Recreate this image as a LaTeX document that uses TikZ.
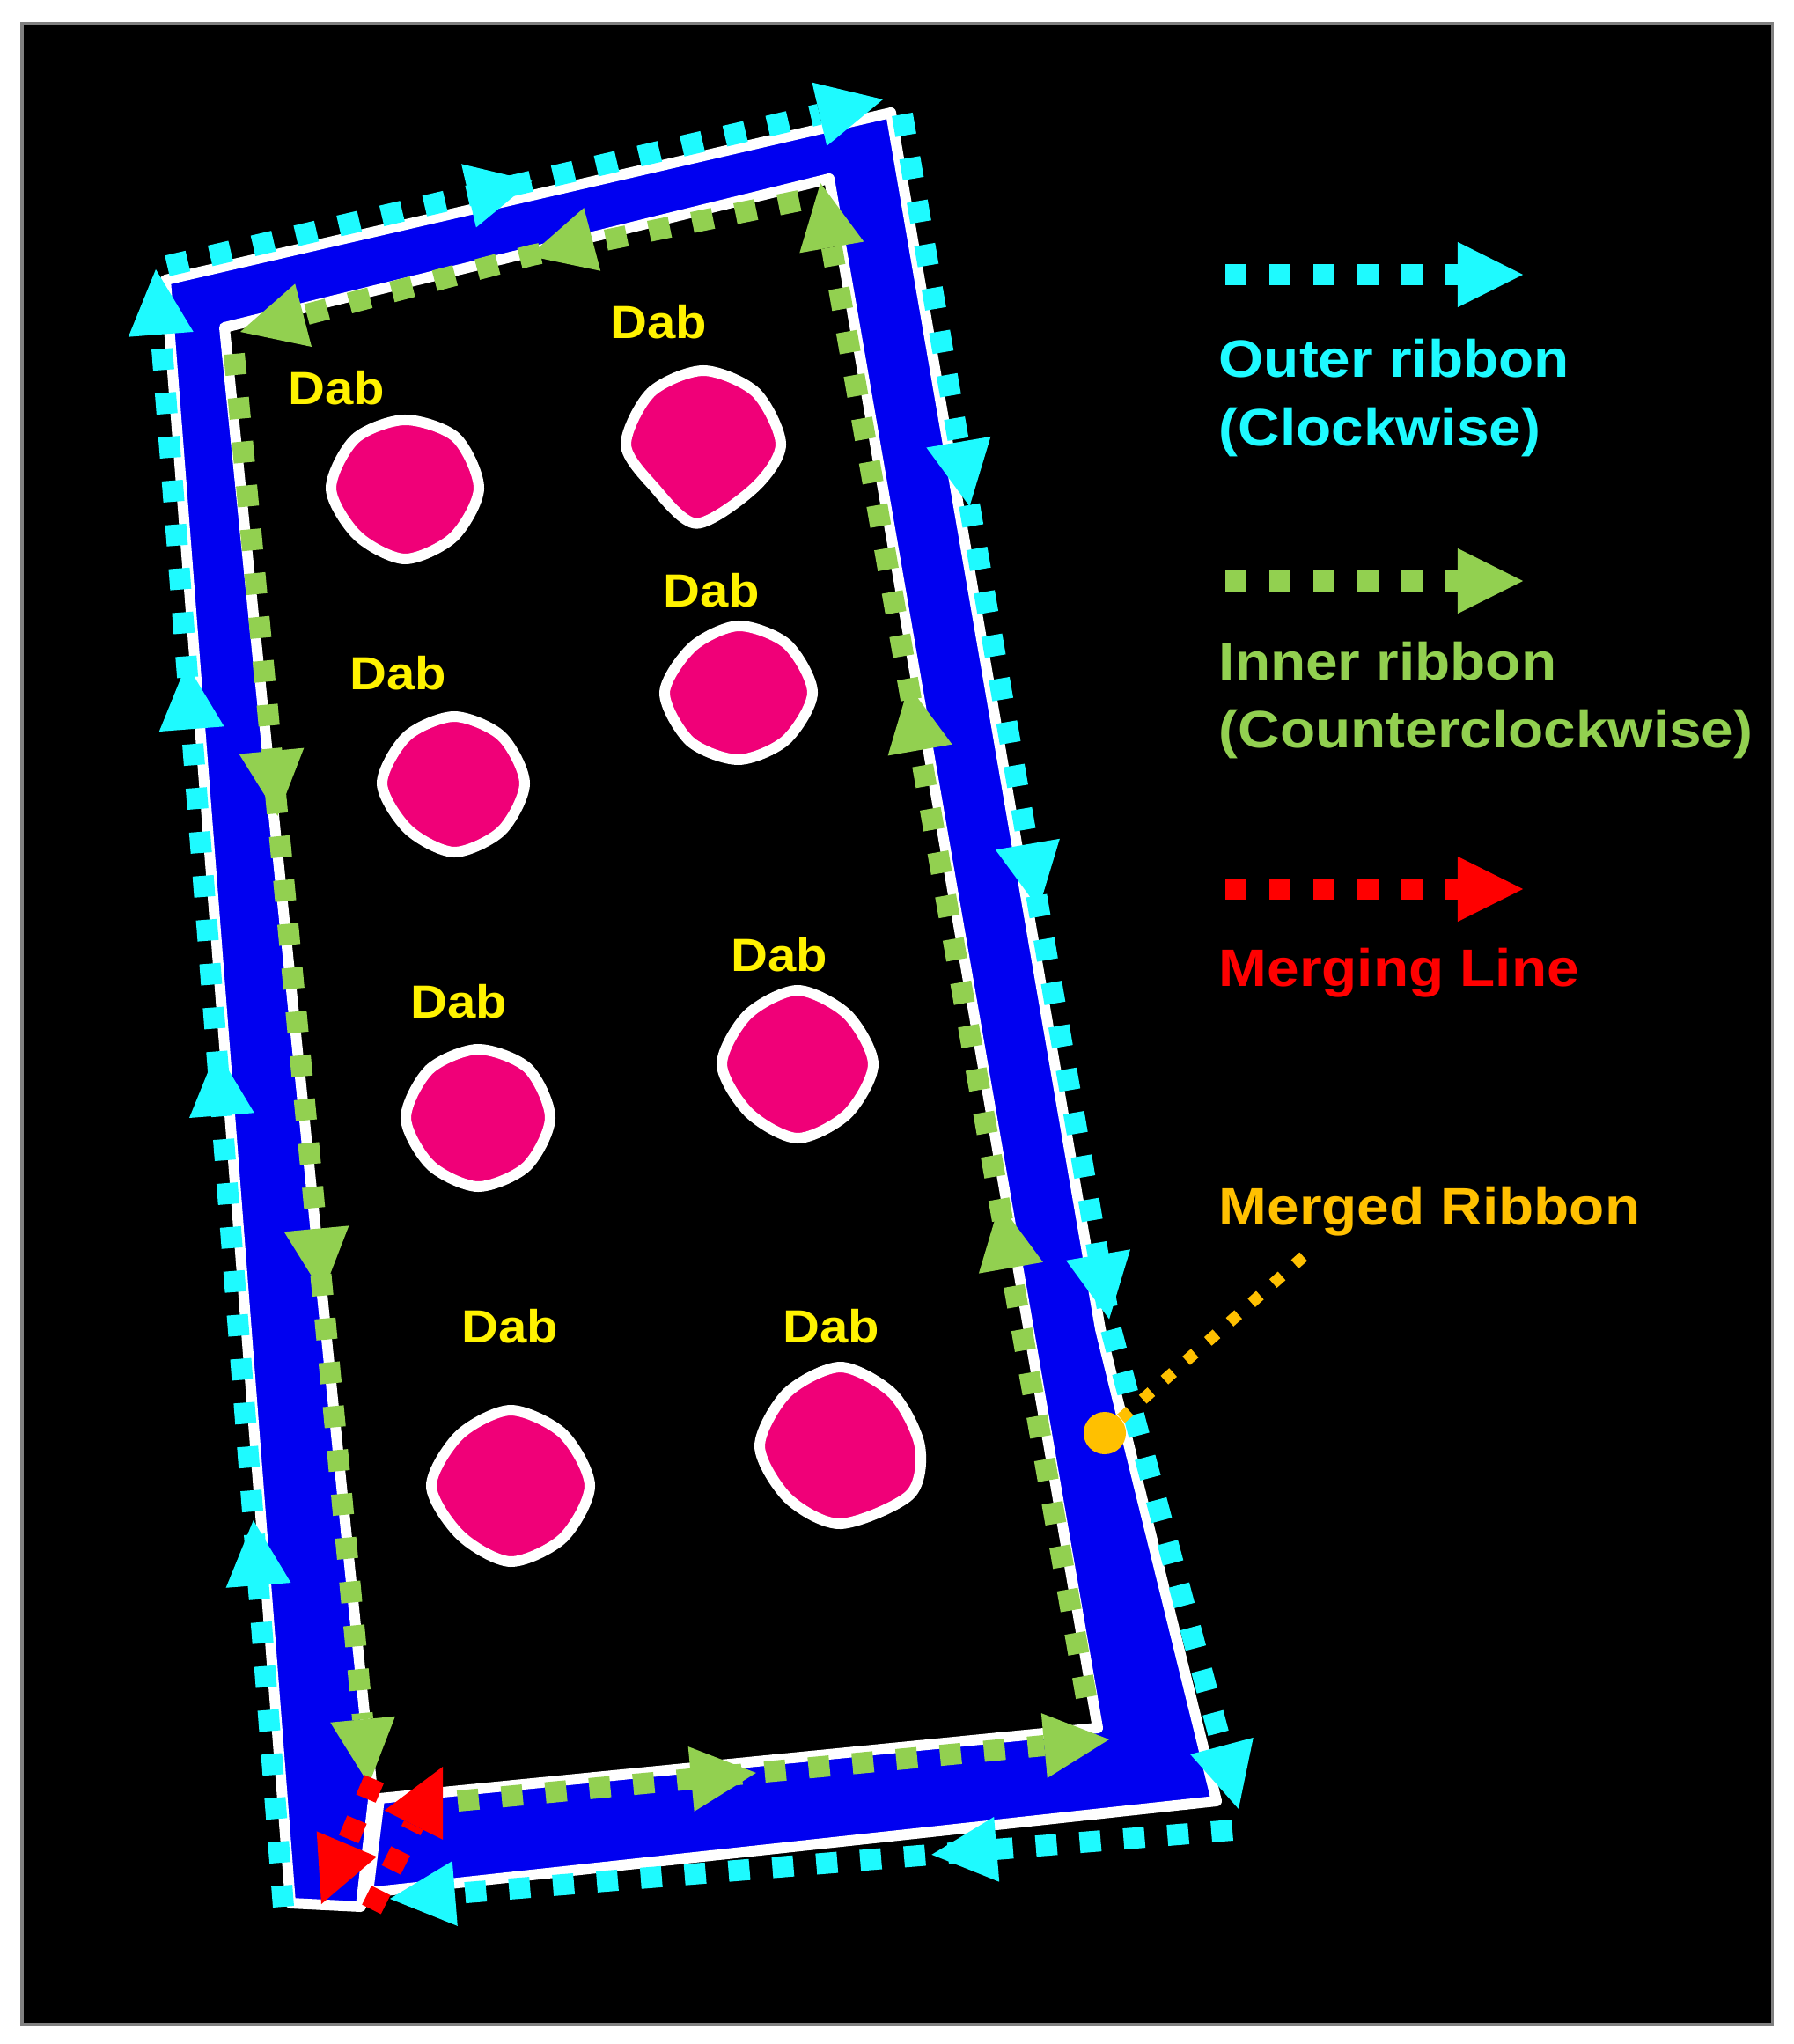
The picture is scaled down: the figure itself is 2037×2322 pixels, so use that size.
\documentclass[tikz,border=0pt]{standalone}
\usepackage{fontspec}
\setmainfont{Liberation Sans}[FakeStretch=1.1]
\usetikzlibrary{arrows.meta}
\usetikzlibrary{decorations.markings}

\definecolor{ribcyan}{RGB}{30,250,255}
\definecolor{ribgreen}{RGB}{146,208,80}
\definecolor{ribblue}{RGB}{0,0,240}
\definecolor{dabpink}{RGB}{240,0,120}
\definecolor{mergeorange}{RGB}{255,192,0}

\tikzset{
  >={Triangle[length=0.74cm,width=0.74cm,line width=0pt]},
  ribbon/.style={line width=0.24cm,dash pattern=on 0.24cm off 0.26cm,->},
  arrowat/.style={postaction={decorate,decoration={markings,mark=at position #1 with {\arrow{>}}}}},
  dab/.style={text=yellow,inner sep=0pt,font=\fontsize{15}{18}\selectfont\bfseries},
  legend/.style={anchor=base west,inner sep=0pt,font=\fontsize{17}{20}\selectfont\bfseries},
  dabblob/.style={fill=dabpink,draw=white,line width=0.12cm},
  mergeline/.style={mergeorange,line width=0.13cm,dash pattern=on 0.13cm off 0.2cm}
}

\begin{document}
\begin{tikzpicture}[x=0.01cm,y=-0.01cm]
\useasboundingbox (0,0) rectangle (2037,2322);
\fill[white] (0,0) rectangle (2037,2322);
\filldraw[fill=black,draw=gray,line width=0.03cm] (25,27) rectangle (2013,2299);

% the cut ribbon
\filldraw[fill=ribblue,draw=white,line width=0.12cm,line join=round]
  (410,2166) -- (330,2162) -- (188,318) -- (1012,128) -- (1250,1510) -- (1382,2046)
  -- (418,2150) -- (431,2043) -- (1247,1963) -- (942,203) -- (255,372) -- (424,2045) -- cycle;

% dabs
\draw[dabblob,shift={(460,555)}] plot[smooth cycle] coordinates {(0:84) (45:78) (90:80) (135:76) (180:84) (225:80) (270:78) (315:82)};
\draw[dabblob,shift={(799,505)}] plot[smooth cycle] coordinates {(0:88) (40:76) (95:90) (140:74) (180:88) (225:84) (270:84) (315:84)};
\draw[dabblob,shift={(516,890)}] plot[smooth cycle] coordinates {(0:80) (45:76) (90:78) (135:74) (180:82) (225:76) (270:76) (315:76)};
\draw[dabblob,shift={(839,787)}] plot[smooth cycle] coordinates {(0:84) (45:76) (90:76) (135:78) (180:84) (225:74) (270:76) (315:78)};
\draw[dabblob,shift={(543,1270)}] plot[smooth cycle] coordinates {(0:82) (45:78) (90:78) (135:76) (180:82) (225:78) (270:78) (315:80)};
\draw[dabblob,shift={(906,1209)}] plot[smooth cycle] coordinates {(0:86) (45:80) (90:84) (135:78) (180:86) (225:80) (270:84) (315:80)};
\draw[dabblob,shift={(580,1688)}] plot[smooth cycle] coordinates {(0:90) (45:84) (90:86) (135:80) (180:90) (225:82) (270:86) (315:84)};
\draw[dabblob,shift={(955,1643)}] plot[smooth cycle] coordinates {(0:90) (35:96) (90:88) (135:84) (180:92) (225:86) (270:90) (315:84)};

\node[dab] (dab1) at (382,441) {Dab};
\node[dab] (dab2) at (748,366) {Dab};
\node[dab] (dab3) at (452,765) {Dab};
\node[dab] (dab4) at (808,671) {Dab};
\node[dab] (dab5) at (521,1138) {Dab};
\node[dab] (dab6) at (885,1085) {Dab};
\node[dab] (dab7) at (579,1507) {Dab};
\node[dab] (dab8) at (944,1507) {Dab};

% outer ribbon, clockwise
\coordinate (obl) at (322,2166);
\coordinate (otl) at (177,306);
\coordinate (otls) at (190,302);
\coordinate (otr) at (1003,113);
\coordinate (otrs) at (1025,130);
\coordinate (obend) at (1262,1510);
\coordinate (obr) at (1407,2055);
\coordinate (obrs) at (1400,2079);
\coordinate (oend) at (443,2157);
\draw[ribbon,ribcyan,arrowat=0.236,arrowat=0.523,arrowat=0.759] (obl) -- (otl);
\draw[ribbon,ribcyan,arrowat=0.51] (otls) -- (otr);
\draw[ribbon,ribcyan,arrowat=0.23,arrowat=0.466,arrowat=0.707] (otrs) -- (obend) -- (obr);
\draw[ribbon,ribcyan,arrowat=0.357] (obrs) -- (oend);

% inner ribbon, counterclockwise
\coordinate (itl) at (266,402);
\coordinate (ibl) at (419,2027);
\coordinate (ibls) at (520,2046);
\coordinate (ibr) at (1260,1976);
\coordinate (ibrs) at (1234,1928);
\coordinate (itr) at (932,208);
\coordinate (itrs) at (908,228);
\coordinate (itop) at (604,290);
\coordinate (iend) at (273,377);
\draw[ribbon,ribgreen,arrowat=0.323,arrowat=0.657] (itl) -- (ibl);
\draw[ribbon,ribgreen,arrowat=0.458] (ibls) -- (ibr);
\draw[ribbon,ribgreen,arrowat=0.326,arrowat=0.668] (ibrs) -- (itr);
\draw[ribbon,ribgreen,arrowat=0.48] (itrs) -- (itop) -- (iend);

% merging line
\coordinate (rga) at (425,2021);
\coordinate (rgb) at (365,2163);
\coordinate (rgc) at (422,2169);
\coordinate (rgd) at (503,2007);
\draw[ribbon,red] (rga) -- (rgb);
\draw[ribbon,red] (rgc) -- (rgd);

% merged ribbon
\node[circle,fill=mergeorange,inner sep=0pt,minimum size=0.48cm] (mergept) at (1255,1628) {};
\coordinate (mergetip) at (1488,1421);
\draw[mergeline] (mergept) -- (mergetip);

% legend
\coordinate (lgcyanA) at (1392,312);
\coordinate (lgcyanB) at (1730,312);
\coordinate (lggreenA) at (1392,660);
\coordinate (lggreenB) at (1730,660);
\coordinate (lgredA) at (1392,1010);
\coordinate (lgredB) at (1730,1010);
\draw[ribbon,ribcyan] (lgcyanA) -- (lgcyanB);
\draw[ribbon,ribgreen] (lggreenA) -- (lggreenB);
\draw[ribbon,red] (lgredA) -- (lgredB);

\node[legend,text=ribcyan] (outerA) at (1384,429) {Outer ribbon};
\node[legend,text=ribcyan] (outerB) at (1384,507) {(Clockwise)};
\node[legend,text=ribgreen] (innerA) at (1384,772) {Inner ribbon};
\node[legend,text=ribgreen] (innerB) at (1384,850) {(Counterclockwise)};
\node[legend,text=red] (mergeline) at (1384,1120) {Merging Line};
\node[legend,text=mergeorange] (mergelabel) at (1384,1391) {Merged Ribbon};

\end{tikzpicture}
\end{document}
